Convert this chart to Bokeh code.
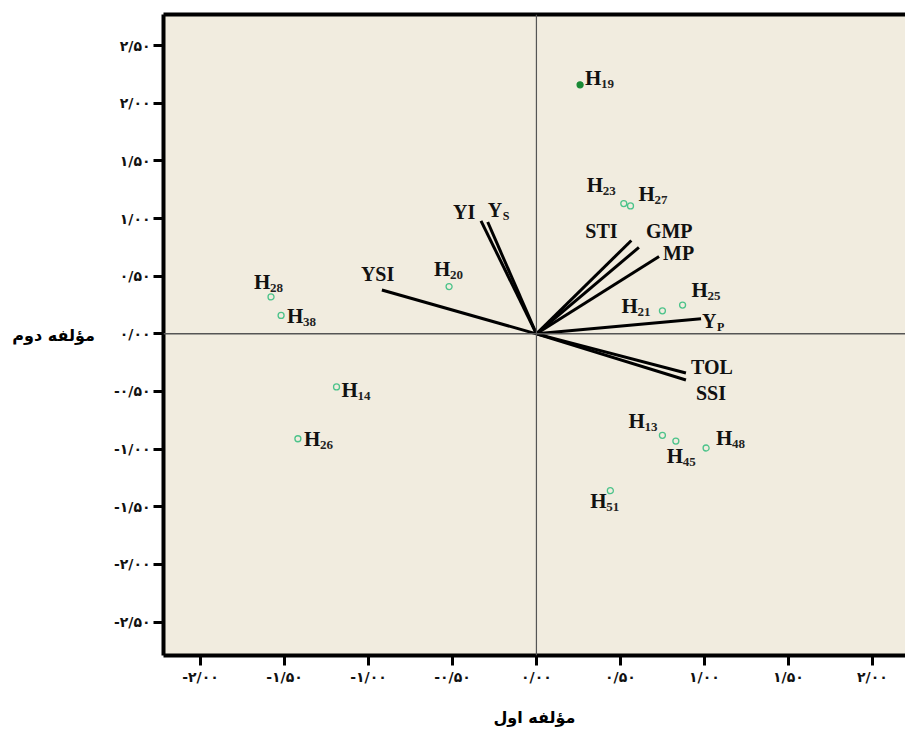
from bokeh.plotting import figure
from bokeh.models import ColumnDataSource, FixedTicker, LinearAxis, Span
from bokeh.core.properties import value
from bokeh.embed import file_html
from bokeh.resources import INLINE

# ---------------- data ----------------
genotype_nums = ["19", "23", "27", "28", "38", "20", "21", "25", "14", "26", "13", "45", "48", "51"]
pc1_scores = [0.26, 0.52, 0.56, -1.58, -1.52, -0.52, 0.75, 0.87, -1.19, -1.42, 0.75, 0.83, 1.01, 0.44]
pc2_scores = [2.16, 1.13, 1.11, 0.32, 0.16, 0.41, 0.20, 0.25, -0.46, -0.91, -0.88, -0.93, -0.99, -1.36]

index_main = ["YI", "Y", "YSI", "STI", "GMP", "MP", "Y", "TOL", "SSI"]
index_sub = ["", "S", "", "", "", "", "P", "", ""]
load_pc1 = [-0.33, -0.29, -0.92, 0.565, 0.61, 0.73, 0.98, 0.89, 0.89]
load_pc2 = [0.98, 0.97, 0.38, 0.81, 0.75, 0.67, 0.13, -0.34, -0.40]

x_ticks = [-2.0, -1.5, -1.0, -0.5, 0.0, 0.5, 1.0, 1.5, 2.0]
x_tick_labels = ["-۲/۰۰", "-۱/۵۰", "-۱/۰۰", "-۰/۵۰", "۰/۰۰", "۰/۵۰", "۱/۰۰", "۱/۵۰", "۲/۰۰"]
y_ticks = [-2.5, -2.0, -1.5, -1.0, -0.5, 0.0, 0.5, 1.0, 1.5, 2.0, 2.5]
y_tick_labels = ["-۲/۵۰", "-۲/۰۰", "-۱/۵۰", "-۱/۰۰", "-۰/۵۰", "۰/۰۰", "۰/۵۰", "۱/۰۰", "۱/۵۰", "۲/۰۰", "۲/۵۰"]

x_title = "مؤلفه اول"
y_title = "مؤلفه دوم"

# label placement (screen pixel offsets)
g_dx = [5, -37, 8, -17, 6, -15, -41, 9, 5, 6, -34, -9, 10, -20]
g_dy = [-7, -19, -12, -15, 1, -18, -5, -15, 3, 0, -14, 15, -10, 10]
v_dx = [-28, 0, -21, -46, 7, 4, 1, 5, 10]
v_dy = [-9, -12, -16, -9, -16, -4, 2, -6, 13]

BG = "#f1ecdf"
SERIF = value("Liberation Serif")

p = figure(width=905, height=730, x_range=(-2.22, 2.197), y_range=(-2.79, 2.77),
           output_backend="svg", toolbar_location=None,
           min_border_left=163, min_border_top=14, min_border_bottom=75, min_border_right=0,
           background_fill_color=BG, border_fill_color="white", outline_line_color=None)
p.xgrid.visible = False
p.ygrid.visible = False

# axes
for ax, ticks, labels in ((p.xaxis[0], x_ticks, x_tick_labels), (p.yaxis[0], y_ticks, y_tick_labels)):
    ax.ticker = FixedTicker(ticks=ticks)
    ax.major_label_overrides = {t: l for t, l in zip(ticks, labels)}
    ax.major_tick_out = 10
    ax.major_tick_in = 0
    ax.major_tick_line_width = 3
    ax.minor_tick_line_color = None
    ax.axis_line_width = 4
    ax.major_label_text_font = "DejaVu Sans"
    ax.major_label_text_font_size = "14px"
    ax.major_label_text_font_style = "bold"
    ax.major_label_text_color = "#111111"
    ax.major_label_standoff = 3
    ax.axis_label_text_font = "DejaVu Sans"
    ax.axis_label_text_font_size = "16px"
    ax.axis_label_text_font_style = "bold"
    ax.axis_label_text_color = "black"

p.xaxis[0].axis_label = x_title
p.xaxis[0].axis_label_standoff = 20
p.yaxis[0].axis_label = y_title
p.yaxis[0].axis_label_orientation = "horizontal"
p.yaxis[0].axis_label_standoff = 16

top = LinearAxis(ticker=FixedTicker(ticks=[]), axis_line_width=4,
                 major_tick_line_color=None, minor_tick_line_color=None,
                 major_label_text_color=None)
p.add_layout(top, "above")

# center lines
p.add_layout(Span(location=0, dimension="width", line_color="#555555", line_width=1.5))
p.add_layout(Span(location=0, dimension="height", line_color="#555555", line_width=1.2))

# vectors
vsrc = ColumnDataSource(dict(x0=[0] * len(load_pc1), y0=[0] * len(load_pc1), x=load_pc1, y=load_pc2,
                             main=index_main, sub=index_sub, dx=v_dx, dy=v_dy,
                             sdx=[d + 15 for d in v_dx], sdy=[d + 6 for d in v_dy]))
p.segment(x0="x0", y0="y0", x1="x", y1="y", source=vsrc, line_color="black", line_width=3)
p.text(x="x", y="y", text="main", x_offset="dx", y_offset="dy", source=vsrc,
       text_font=SERIF, text_font_style="bold", text_font_size="20px",
       text_align="left", text_baseline="middle", text_color="#111111")
p.text(x="x", y="y", text="sub", x_offset="sdx", y_offset="sdy", source=vsrc,
       text_font=SERIF, text_font_style="bold", text_font_size="12px",
       text_align="left", text_baseline="middle", text_color="#111111")

# genotypes
fills = ["#1a8a35"] + [BG] * (len(pc1_scores) - 1)
lines = ["#1a8a35"] + ["#4cc38a"] * (len(pc1_scores) - 1)
gsrc = ColumnDataSource(dict(x=pc1_scores, y=pc2_scores, num=genotype_nums,
                             h=["H"] * len(pc1_scores), fill=fills, line=lines,
                             dx=g_dx, dy=g_dy,
                             sdx=[d + 16 for d in g_dx], sdy=[d + 6 for d in g_dy]))
p.scatter(x="x", y="y", source=gsrc, marker="circle", size=6,
          fill_color="fill", line_color="line", line_width=1.3)
p.text(x="x", y="y", text="h", x_offset="dx", y_offset="dy", source=gsrc,
       text_font=SERIF, text_font_style="bold", text_font_size="21px",
       text_align="left", text_baseline="middle", text_color="#111111")
p.text(x="x", y="y", text="num", x_offset="sdx", y_offset="sdy", source=gsrc,
       text_font=SERIF, text_font_style="bold", text_font_size="13px",
       text_align="left", text_baseline="middle", text_color="#222222")

open("out.html", "w").write(file_html(p, INLINE))
